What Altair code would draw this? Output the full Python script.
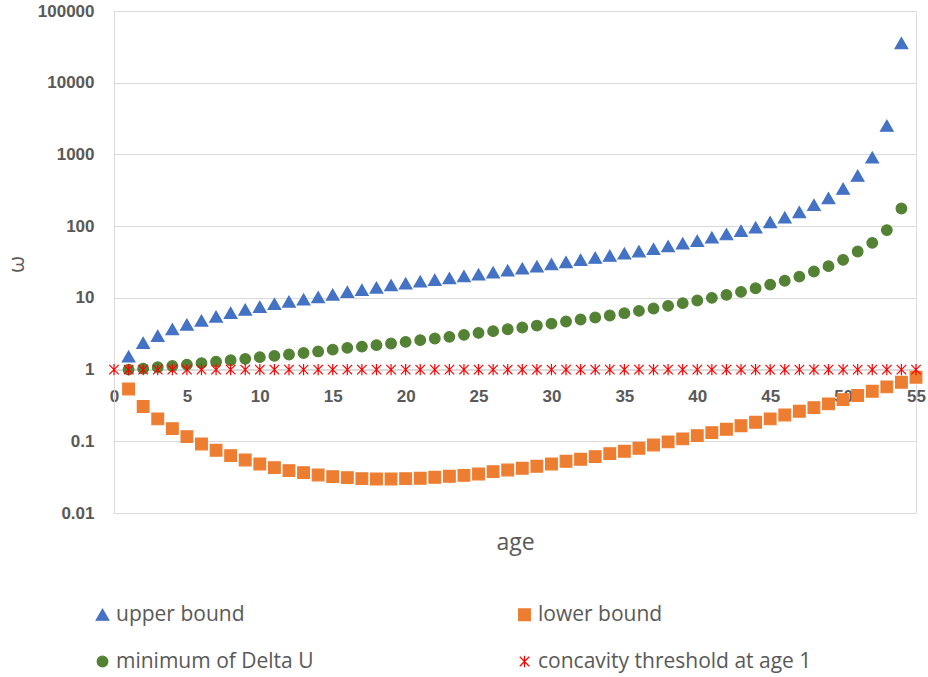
import altair as alt
import pandas as pd

# Series values read per age
ages_upper = list(range(1, 55))
upper_bound = [1.52, 2.36, 2.95, 3.65, 4.24, 4.82, 5.48, 6.18, 6.85, 7.5,
               8.2, 8.88, 9.5, 10.2, 11.1, 12.1, 12.9, 13.9, 15.0, 15.9,
               16.9, 17.8, 18.8, 20.1, 21.2, 22.6, 24.1, 25.7, 27.4, 29.4,
               31.5, 33.9, 36.2, 38.6, 41.5, 44.5, 48, 52.5, 57.3, 62.4,
               69.5, 77, 86, 96, 114, 132, 157, 197, 246, 332,
               504, 908, 2510, 35700]

ages_lower = list(range(1, 56))
lower_bound = [0.537, 0.305, 0.205, 0.150, 0.116, 0.0918, 0.0749, 0.0631, 0.0549, 0.0483,
               0.0429, 0.0390, 0.0365, 0.0339, 0.0321, 0.0311, 0.0301, 0.0298, 0.0298, 0.0301,
               0.0305, 0.0315, 0.0325, 0.0335, 0.0350, 0.0377, 0.0398, 0.0420, 0.0448, 0.0483,
               0.0526, 0.0561, 0.0611, 0.0673, 0.0725, 0.0799, 0.0889, 0.098, 0.108, 0.120,
               0.132, 0.147, 0.165, 0.184, 0.205, 0.233, 0.262, 0.295, 0.332, 0.381,
               0.434, 0.499, 0.573, 0.666, 0.782]

ages_min = list(range(1, 55))
min_delta_u = [1.0, 1.03, 1.08, 1.12, 1.17, 1.23, 1.29, 1.35, 1.41, 1.49,
               1.55, 1.62, 1.70, 1.79, 1.90, 2.01, 2.09, 2.19, 2.31, 2.43,
               2.57, 2.71, 2.86, 3.05, 3.25, 3.43, 3.65, 3.86, 4.11, 4.38,
               4.68, 4.99, 5.32, 5.67, 6.11, 6.59, 7.10, 7.73, 8.43, 9.18,
               10.0, 11.0, 12.1, 13.6, 15.3, 17.3, 19.8, 23.3, 27.7, 33.9,
               44.3, 58.5, 88, 176]

ages_threshold = list(range(0, 56))
threshold = [1] * 56

series_names = ["upper bound", "lower bound", "minimum of Delta U",
                "concavity threshold at age 1"]
series_colors = ["#4472C4", "#ED7D31", "#548235", "#FF0000"]
asterisk = "M-1,-1L1,1M-1,1L1,-1M0,-1.2L0,1.2"
series_shapes = ["triangle-up", "square", "circle", asterisk]
series_sizes = [160, 90, 45, 100]

y_ticks = [0.01, 0.1, 1, 10, 100, 1000, 10000, 100000]
x_ticks = list(range(0, 56, 5))

frames = []
for name, ages, vals in [
    (series_names[0], ages_upper, upper_bound),
    (series_names[1], ages_lower, lower_bound),
    (series_names[2], ages_min, min_delta_u),
    (series_names[3], ages_threshold, threshold),
]:
    frames.append(pd.DataFrame({"age": ages, "omega": vals, "series": name}))
df = pd.concat(frames, ignore_index=True)

grey = "#595959"
grid = "#d9d9d9"

color_scale = alt.Scale(domain=series_names, range=series_colors)
legend = alt.Legend(
    title=None, orient="none", legendX=-22, legendY=593, columns=2,
    direction="horizontal",
    columnPadding=200, rowPadding=25, labelFont="Open Sans", labelFontSize=21,
    labelColor=grey, labelOffset=3, padding=0, symbolStrokeWidth=1.2,
    labelLimit=400,
)

chart = alt.Chart(df).mark_point(filled=True, strokeWidth=1.2, opacity=1).encode(
    x=alt.X("age:Q",
            scale=alt.Scale(domain=[0, 55], nice=False),
            axis=alt.Axis(values=x_ticks, offset=-144, grid=False, ticks=False,
                          domainColor=grid, labelPadding=19, labelFlush=False,
                          labelFont="Liberation Sans", labelFontSize=17,
                          labelFontWeight="bold", labelColor=grey,
                          title="age", titleFont="Open Sans", titleFontSize=23,
                          titleFontWeight="normal", titleColor=grey,
                          titleY=180, titleBaseline="alphabetic")),
    y=alt.Y("omega:Q",
            scale=alt.Scale(type="log", domain=[0.01, 100000], nice=False),
            axis=alt.Axis(values=y_ticks, format="~g", grid=True, gridColor=grid,
                          ticks=False, domainColor=grid, labelPadding=20,
                          labelFont="Liberation Sans", labelFontSize=17,
                          labelFontWeight="bold", labelColor=grey,
                          title="ω", titleFont="Open Sans", titleFontSize=22,
                          titleFontWeight="normal", titleColor=grey,
                          titleX=-86, titleY=253)),
    fill=alt.Fill("series:N", scale=color_scale, legend=legend),
    stroke=alt.Stroke("series:N", scale=color_scale, legend=legend),
    shape=alt.Shape("series:N", scale=alt.Scale(domain=series_names, range=series_shapes),
                    legend=legend),
    size=alt.Size("series:N", scale=alt.Scale(domain=series_names, range=series_sizes),
                  legend=legend),
).properties(
    width=802, height=502, autosize="none",
    padding={"left": 114, "top": 11, "right": 12, "bottom": 164},
).configure_view(stroke=None).configure(background="white")

chart.save("out.html", embed_options={"renderer": "svg", "actions": False})
